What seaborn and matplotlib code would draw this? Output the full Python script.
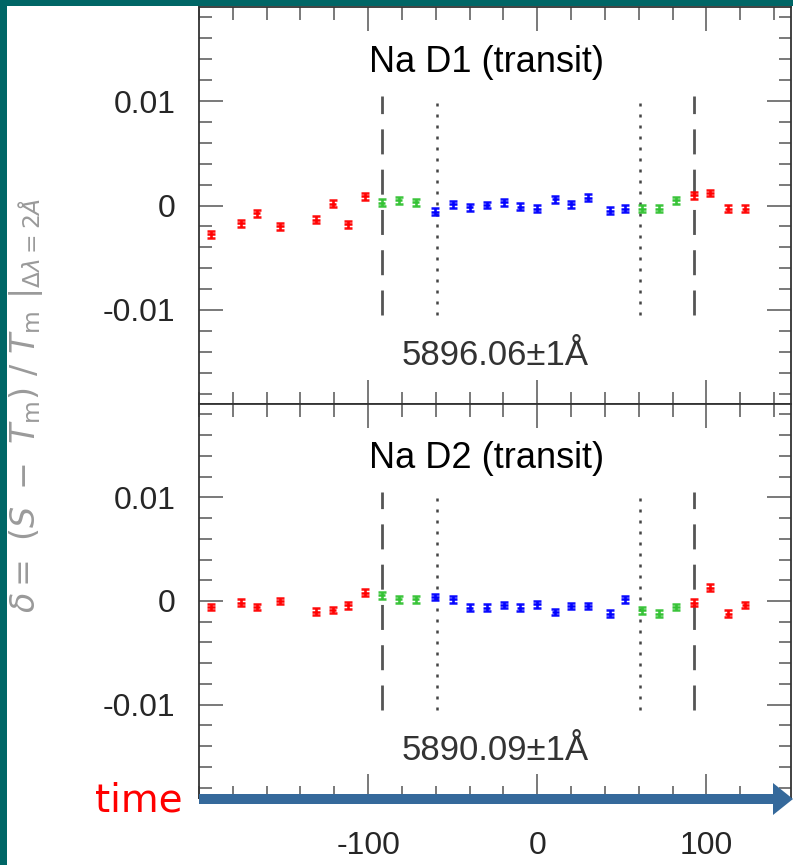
import numpy as np
import pandas as pd
import matplotlib
matplotlib.use("Agg")
import matplotlib.pyplot as plt
import seaborn as sns
from matplotlib.patches import Rectangle, FancyArrow
from matplotlib.ticker import MultipleLocator, FixedLocator, FixedFormatter

# ---------------- data ----------------
t_min = [-193, -175, -166, -152, -131, -121, -112, -102,
         -92, -82, -72,
         -60.5, -50, -40, -30, -19.5, -10, 0, 10.7, 20, 30, 43, 52,
         62, 72, 82,
         92.5, 102, 113, 123]
phase = (["out"] * 8 + ["ingress"] * 3 + ["in"] * 12 + ["ingress"] * 3 + ["out"] * 4)
d1_e3 = [-2.74, -1.70, -0.74, -2.00, -1.35, 0.16, -1.80, 0.87,
         0.26, 0.48, 0.32,
         -0.58, 0.10, -0.16, 0.05, 0.32, -0.10, -0.32, 0.58, 0.10, 0.74, -0.48, -0.32,
         -0.32, -0.32, 0.48,
         0.97, 1.20, -0.32, -0.32]
d2_e3 = [-0.58, -0.16, -0.58, 0.00, -1.03, -0.87, -0.42, 0.80,
         0.55, 0.16, 0.16,
         0.39, 0.16, -0.65, -0.65, -0.39, -0.65, -0.32, -1.06, -0.48, -0.48, -1.23, 0.16,
         -0.90, -1.23, -0.58,
         -0.16, 1.29, -1.23, -0.39]
err_e3 = [0.33] * 30

dashed_t = [-92, 92.5]
dotted_t = [-59.5, 60.5]
line_span = [-0.0105, 0.0105]

ytick_vals = [-0.01, 0, 0.01]
ytick_labels = ["-0.01", "0", "0.01"]
xtick_vals = [-100, 0, 100]
xtick_labels = ["-100", "0", "100"]

titles = ["Na D1 (transit)", "Na D2 (transit)"]
waves = ["5896.06±1Å", "5890.09±1Å"]

palette = {"out": "#ff0000", "ingress": "#33c233", "in": "#0000ff"}

df = pd.DataFrame({
    "t": t_min,
    "phase": phase,
    "d1": np.array(d1_e3) * 1e-3,
    "d2": np.array(d2_e3) * 1e-3,
    "err": np.array(err_e3) * 1e-3,
})

# ---------------- style ----------------
sns.set_theme(style="white")
plt.rcParams["font.family"] = ["Liberation Sans", "DejaVu Sans"]
plt.rcParams["axes.unicode_minus"] = False

W, H = 793, 865
fig = plt.figure(figsize=(W / 100, H / 100), dpi=100)
fig.patch.set_facecolor("white")

L, R, T, M, B = 199, 791, 7, 404, 798
ax1 = fig.add_axes([L / W, 1 - M / H, (R - L) / W, (M - T) / H])
ax2 = fig.add_axes([L / W, 1 - B / H, (R - L) / W, (B - M) / H], sharex=ax1)

for ax, col, title, wave in [(ax1, "d1", titles[0], waves[0]), (ax2, "d2", titles[1], waves[1])]:
    sns.scatterplot(data=df, x="t", y=col, hue="phase", palette=palette,
                    marker="_", s=30, linewidth=1.8, legend=False, ax=ax, zorder=4)
    for ph, sub in df.groupby("phase"):
        ax.errorbar(sub["t"], sub[col], yerr=sub["err"], fmt="none",
                    ecolor=palette[ph], elinewidth=1.9, capsize=2.8, capthick=1.8,
                    alpha=0.95, zorder=4)
    for x in dashed_t:
        ax.plot([x, x], line_span, color="#555555", lw=2.0, ls=(0, (9, 5.5)), zorder=2)
    for x in dotted_t:
        ax.plot([x, x], line_span, color="#444444", lw=1.8, ls=(0, (1.2, 3.2)), zorder=2)

    ax.set_xlim(-200, 150)
    ax.set_ylim(-0.019, 0.019)
    ax.xaxis.set_major_locator(FixedLocator(xtick_vals))
    ax.xaxis.set_major_formatter(FixedFormatter(xtick_labels))
    ax.xaxis.set_minor_locator(MultipleLocator(20))
    ax.yaxis.set_major_locator(FixedLocator(ytick_vals))
    ax.yaxis.set_major_formatter(FixedFormatter(ytick_labels))
    ax.yaxis.set_minor_locator(MultipleLocator(0.002))
    ax.tick_params(which="both", direction="in", top=True, right=True,
                   bottom=True, left=True, color="#555555", width=1.1)
    ax.tick_params(which="major", length=17, labelsize=23)
    ax.tick_params(which="minor", length=9)
    ax.tick_params(axis="y", which="major", pad=17)
    ax.tick_params(axis="x", which="major", pad=24)
    ax.set_xlabel("")
    ax.set_ylabel("")
    for s in ax.spines.values():
        s.set_color("#333333")
        s.set_linewidth(1.3)

    ax.text(-30, 0.0137, title, ha="center", va="center", fontsize=26, color="black")
    ax.text(-25, -0.0144, wave, ha="center", va="center", fontsize=25, color="#333333")

ax1.tick_params(axis="x", labelbottom=False)

# y-axis label
fig.text(26 / W, 1 - 405 / H,
         r"$\delta=\ (S\ -\ T_{\rm m})\ /\ T_{\rm m}\ |_{\Delta\lambda=2\AA}$",
         rotation=90, color="#9a9a9a", fontsize=24, ha="center", va="center")

# teal frame strips
fig.add_artist(Rectangle((0, 0), 7 / W, 1, transform=fig.transFigure,
                         color="#006666", zorder=20, lw=0))
fig.add_artist(Rectangle((0, 1 - 6 / H), 1, 6 / H, transform=fig.transFigure,
                         color="#006666", zorder=20, lw=0))

# time arrow
fig.add_artist(FancyArrow(L / W, 1 - 799 / H, (773 - L) / W, 0,
                          width=10 / H, head_width=32 / H, head_length=20 / W,
                          length_includes_head=False, color="#35699b",
                          transform=fig.transFigure, zorder=20, lw=0))
fig.text(183 / W, 1 - 801 / H, "time", color="red", fontsize=28,
         ha="right", va="center", family=["DejaVu Sans"])

fig.savefig("out.png", dpi=100, facecolor="white")
